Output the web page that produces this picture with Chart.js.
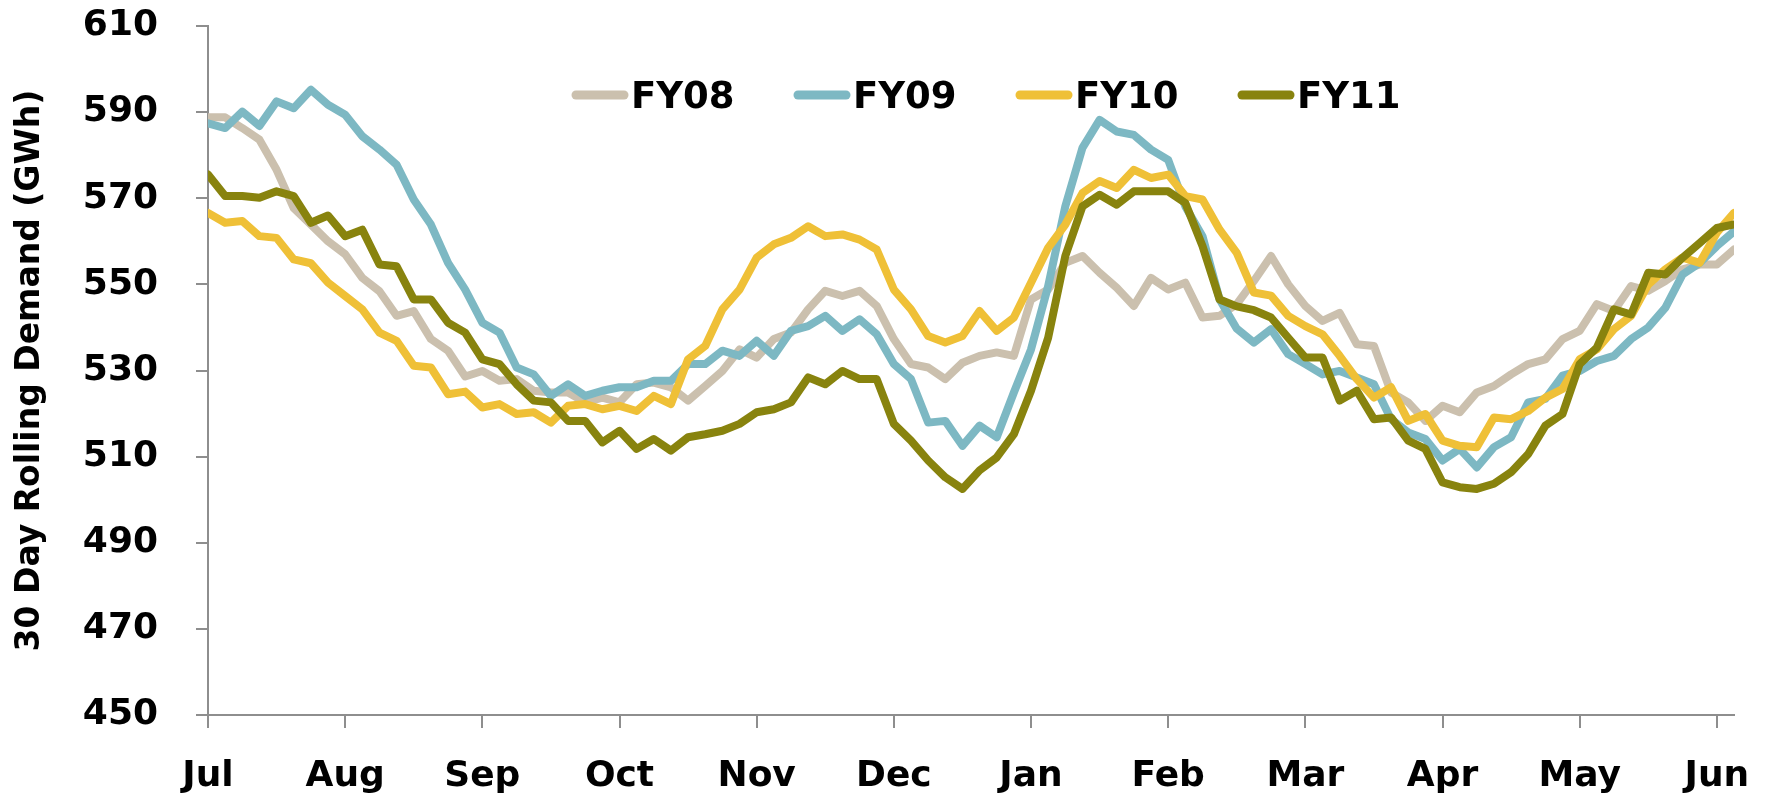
<!DOCTYPE html>
<html>
<head>
<meta charset="utf-8">
<title>30 Day Rolling Demand</title>
<script src="https://cdn.jsdelivr.net/npm/chart.js@4.4.0/dist/chart.umd.min.js"></script>
<style>
  html, body { margin: 0; padding: 0; background: #fff; }
  #wrap { width: 1769px; height: 798px; }
</style>
</head>
<body>
<div id="wrap"><canvas id="demandChart" width="1769" height="798"></canvas></div>
<script>
// Month names on the x axis (financial year, Jul..Jun)
const monthNames = ['Jul', 'Aug', 'Sep', 'Oct', 'Nov', 'Dec', 'Jan', 'Feb', 'Mar', 'Apr', 'May', 'Jun'];
// readings taken every 1/8 of a month
const SAMPLES_PER_MONTH = 8;

// 30 day rolling demand (GWh)
const fy08 = [
  588.8, 588.8, 586.3, 583.6, 576.6, 567.7, 563.9, 560.0, 557.0, 551.5, 548.4, 542.7, 543.8, 537.3, 534.6, 528.6,
  529.9, 527.6, 528.0, 525.3, 524.9, 524.9, 522.6, 523.7, 522.6, 526.8, 527.2, 526.1, 523.0, 526.4, 529.9,
  534.9, 533.0, 537.3, 538.8, 544.2, 548.5, 547.3, 548.5, 545.0, 537.3, 531.5, 530.7, 528.0, 531.8, 533.4,
  534.2, 533.4, 546.5, 548.8, 555.0, 556.6, 552.7, 549.2, 545.0, 551.5, 548.8, 550.4, 542.3, 542.7, 545.4,
  550.8, 556.6, 550.0, 545.0, 541.5, 543.4, 536.1, 535.7, 524.9, 522.6, 518.3, 521.8, 520.3, 524.9, 526.4,
  529.1, 531.5, 532.6, 537.3, 539.2, 545.4, 543.8, 549.6, 548.5, 550.8, 553.5, 554.6, 554.6, 558.1
];
const fy09 = [
  587.4, 586.3, 590.1, 586.8, 592.5, 590.9, 595.2, 591.7, 589.4, 584.4, 581.3, 577.8, 569.7, 563.9, 555.0, 548.8,
  541.1, 538.8, 530.7, 529.1, 524.1, 526.8, 524.1, 525.3, 526.1, 526.1, 527.6, 527.6, 531.5, 531.5, 534.6,
  533.4, 536.9, 533.4, 539.2, 540.3, 542.7, 539.2, 541.9, 538.4, 531.5, 528.0, 517.9, 518.3, 512.5, 517.2,
  514.5, 524.9, 534.9, 549.6, 568.1, 581.7, 588.2, 585.5, 584.7, 581.3, 578.9, 568.1, 561.2, 546.5, 539.7,
  536.5, 539.6, 533.8, 531.5, 529.1, 529.9, 528.4, 526.8, 518.7, 515.6, 514.1, 509.1, 511.8, 507.5, 512.2,
  514.5, 522.6, 523.4, 528.8, 529.9, 532.2, 533.4, 537.3, 540.0, 544.6, 552.3, 555.0, 558.9, 562.3
];
const fy10 = [
  566.6, 564.3, 564.7, 561.2, 560.8, 555.8, 554.9, 550.4, 547.3, 544.2, 538.8, 536.9, 531.1, 530.7, 524.5, 525.1,
  521.4, 522.2, 519.9, 520.3, 517.9, 521.8, 522.2, 521.0, 521.8, 520.6, 524.1, 522.2, 532.6, 535.7, 544.2,
  548.8, 556.2, 559.3, 560.8, 563.5, 561.2, 561.6, 560.4, 558.1, 548.8, 544.2, 538.0, 536.5, 538.0, 543.8,
  539.2, 542.3, 550.4, 558.5, 563.9, 571.2, 574.0, 572.4, 576.6, 574.7, 575.5, 570.5, 569.7, 562.7, 557.3,
  548.1, 547.4, 542.7, 540.3, 538.4, 533.4, 528.0, 523.7, 526.1, 518.3, 519.9, 513.7, 512.5, 512.2, 519.1,
  518.7, 520.6, 523.7, 525.7, 532.6, 534.9, 539.6, 542.7, 550.0, 553.5, 556.2, 555.0, 562.0, 566.6
];
const fy11 = [
  575.5, 570.5, 570.5, 570.1, 571.6, 570.5, 564.3, 566.0, 561.2, 562.7, 554.6, 554.2, 546.5, 546.5, 541.1, 538.8,
  532.6, 531.5, 526.8, 523.0, 522.6, 518.3, 518.3, 513.3, 516.0, 511.8, 514.1, 511.4, 514.5, 515.2, 516.0,
  517.6, 520.3, 521.0, 522.6, 528.4, 526.8, 529.9, 528.0, 528.0, 517.6, 513.7, 509.1, 505.2, 502.5, 506.8,
  509.8, 515.2, 525.3, 537.6, 556.6, 568.1, 570.8, 568.5, 571.6, 571.6, 571.6, 568.9, 558.9, 546.5, 544.9,
  544.0, 542.3, 537.6, 533.0, 533.0, 523.0, 525.3, 518.7, 519.1, 513.7, 511.8, 504.0, 502.9, 502.5, 503.7,
  506.4, 510.6, 517.2, 519.9, 531.5, 535.3, 544.2, 543.0, 552.7, 552.3, 556.2, 559.6, 563.1, 563.9
];

const seriesNames = ['FY08', 'FY09', 'FY10', 'FY11'];
const seriesColors = ['#CBC0AE', '#7DB8C3', '#EFC037', '#88830E'];

const FONT = '"DejaVu Sans", Verdana, sans-serif';
const AXIS_GREY = '#8E8E8E';

// legend drawn over the plot, like the original
const legendPlugin = {
  id: 'fyLegend',
  afterDatasetsDraw(chart) {
    const ctx = chart.ctx;
    const startX = 572, stepX = 222, y = 95, lineLen = 56;
    ctx.save();
    ctx.font = 'bold 37px ' + FONT;
    ctx.textBaseline = 'alphabetic';
    ctx.textAlign = 'left';
    seriesNames.forEach((name, i) => {
      const x = startX + i * stepX;
      ctx.strokeStyle = seriesColors[i];
      ctx.lineWidth = 9;
      ctx.lineCap = 'round';
      ctx.beginPath();
      ctx.moveTo(x + 4, y);
      ctx.lineTo(x + lineLen - 4, y);
      ctx.stroke();
      ctx.fillStyle = '#000';
      ctx.fillText(name, x + lineLen + 3, y + 13);
    });
    ctx.restore();
  }
};

const allSeries = [fy08, fy09, fy10, fy11];
const lastX = (fy08.length - 1) / SAMPLES_PER_MONTH;

const chart = new Chart(document.getElementById('demandChart'), {
  type: 'line',
  data: {
    datasets: allSeries.map((values, i) => ({
      label: seriesNames[i],
      data: values.map((v, k) => ({ x: k / SAMPLES_PER_MONTH, y: v })),
      borderColor: seriesColors[i],
      backgroundColor: seriesColors[i],
      borderWidth: 8,
      borderJoinStyle: 'round',
      borderCapStyle: 'round',
      pointRadius: 0,
      tension: 0,
      order: allSeries.length - i   // later years on top
    }))
  },
  options: {
    responsive: false,
    animation: false,
    layout: { padding: { top: 26, right: 35, bottom: 0, left: 0 } },
    plugins: {
      legend: { display: false },
      tooltip: { enabled: false }
    },
    scales: {
      x: {
        type: 'linear',
        min: 0,
        max: lastX,
        afterFit: (scale) => {
          scale.height = 83;
          scale.paddingLeft = 0;
          scale.paddingRight = 0;
        },
        grid: { drawOnChartArea: false, drawTicks: true, tickLength: 13, lineWidth: 2, color: AXIS_GREY },
        border: { display: true, color: AXIS_GREY, width: 2 },
        ticks: {
          stepSize: 1,
          includeBounds: false,
          autoSkip: false,
          maxRotation: 0,
          padding: 27,
          color: '#000',
          font: { family: FONT, size: 36, weight: 'bold' },
          callback: (value) => monthNames[value]
        }
      },
      y: {
        min: 450,
        max: 610,
        afterFit: (scale) => {
          scale.width = 208;
          scale.paddingTop = 0;
          scale.paddingBottom = 0;
        },
        grid: { drawOnChartArea: false, drawTicks: true, tickLength: 12, lineWidth: 2, color: AXIS_GREY },
        border: { display: true, color: AXIS_GREY, width: 2 },
        ticks: {
          stepSize: 20,
          padding: 38,
          color: '#000',
          font: { family: FONT, size: 36, weight: 'bold' }
        },
        title: {
          display: true,
          text: '30 Day Rolling Demand (GWh)',
          color: '#000',
          font: { family: FONT, size: 33, weight: 'bold' },
          padding: { top: 11, bottom: 0 }
        }
      }
    }
  },
  plugins: [legendPlugin]
});
</script>
</body>
</html>
